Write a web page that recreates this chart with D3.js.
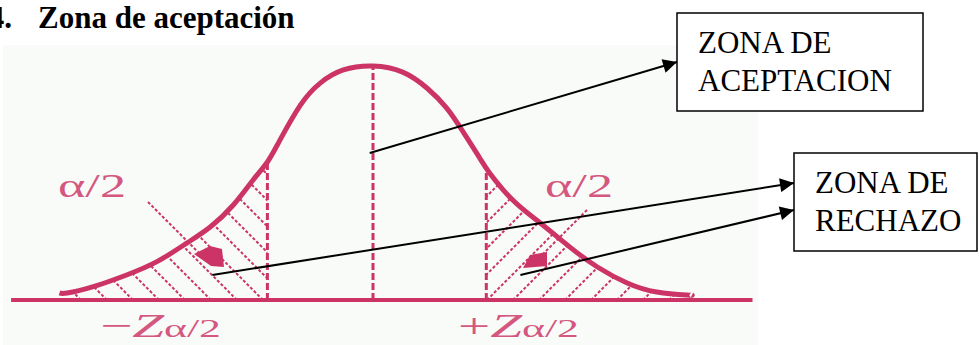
<!DOCTYPE html>
<html>
<head>
<meta charset="utf-8">
<script src="https://cdnjs.cloudflare.com/ajax/libs/d3/7.8.5/d3.min.js"></script>
<style>
body { margin: 0; background: #ffffff; }
text { font-family: "Liberation Serif", "Times New Roman", "DejaVu Serif", serif; }
</style>
</head>
<body>
<div id="graph"></div>
<script>
// bell curve (z units, height relative to the peak)
var curveZ = [-2.85, -2.78, -2.55, -2.24, -1.96, -1.69, -1.48, -1.27, -1.09, -0.96, -0.85, -0.66, -0.48, -0.27, 0, 0.27, 0.49, 0.67, 0.82, 0.97, 1.06, 1.27, 1.52, 1.79, 2.04, 2.31, 2.58, 2.85, 2.9];
var curveH = [0.03, 0.03, 0.056, 0.107, 0.165, 0.244, 0.312, 0.406, 0.513, 0.59, 0.68, 0.833, 0.927, 0.983, 1, 0.974, 0.906, 0.82, 0.718, 0.607, 0.543, 0.427, 0.329, 0.226, 0.141, 0.073, 0.034, 0.021, 0.021];

var axisZ = [-3.29, 3.45];          // ends of the base line
var critZ = [-0.96, 0, 1.03];       // -Z a/2, centre, +Z a/2
var tailLabels = ["\u03b1/2", "\u03b1/2"];
var critLabels = ["\u2212Z", "+Z"];
var critSub = "\u03b1/2";
var boxLabels = [["ZONA DE", "ACEPTACION"], ["ZONA DE", "RECHAZO"]];
// where each arrow starts (z, relative height)
var arrowFrom = [[-0.03, 0.628], [-1.46, 0.107], [1.34, 0.107]];
var title = "Zona de aceptación";

function runD3code() {
	var pink = "#cc3366";
	var svg = d3.select("#graph").append("svg")
		.attr("width", 979)
		.attr("height", 345);

	var x = d3.scaleLinear().domain([-3, 3]).range([43, 703]);
	var y = d3.scaleLinear().domain([0, 1]).range([300, 66]);

	var pts = curveZ.map(function(z, i) { return [z, curveH[i]]; });

	// light picture background
	svg.append("rect")
		.attr("x", 3).attr("y", 45)
		.attr("width", 755).attr("height", 300)
		.style("fill", "#f8fbf8");

	var defs = svg.append("defs");
	defs.append("marker")
		.attr("id", "arrow")
		.attr("viewBox", "0 -5 10 10")
		.attr("refX", 10)
		.attr("refY", 0)
		.attr("markerUnits", "userSpaceOnUse")
		.attr("markerWidth", 16)
		.attr("markerHeight", 14)
		.attr("orient", "auto")
		.append("path")
		.attr("d", "M0,-5L10,0L0,5Z")
		.style("fill", "black");

	var area = d3.area()
		.x(function(d) { return x(d[0]); })
		.y0(y(0))
		.y1(function(d) { return y(d[1]); })
		.curve(d3.curveNatural);
	defs.append("clipPath").attr("id", "under")
		.append("path").attr("d", area(pts));
	defs.append("clipPath").attr("id", "leftTail")
		.append("rect").attr("x", 0).attr("y", 0)
		.attr("width", x(critZ[0])).attr("height", 345);
	defs.append("clipPath").attr("id", "rightTail")
		.append("rect").attr("x", x(critZ[2])).attr("y", 0)
		.attr("width", 979).attr("height", 345);

	// hatching of the two tails
	var left = svg.append("g").attr("clip-path", "url(#leftTail)")
		.append("g").attr("clip-path", "url(#under)");
	left.selectAll("line")
		.data(d3.range(29, 430, 26))
		.enter().append("line")
		.attr("x1", function(d) { return d; })
		.attr("y1", y(0))
		.attr("x2", function(d) { return d - 260; })
		.attr("y2", y(0) - 260)
		.style("stroke", pink)
		.style("stroke-width", 2)
		.style("stroke-dasharray", "3,2");

	var right = svg.append("g").attr("clip-path", "url(#rightTail)")
		.append("g").attr("clip-path", "url(#under)");
	right.selectAll("line")
		.data(d3.range(331, 760, 26))
		.enter().append("line")
		.attr("x1", function(d) { return d; })
		.attr("y1", y(0))
		.attr("x2", function(d) { return d + 260; })
		.attr("y2", y(0) - 260)
		.style("stroke", pink)
		.style("stroke-width", 2)
		.style("stroke-dasharray", "3,2");

	// dashed verticals
	svg.append("g").attr("clip-path", "url(#under)")
		.selectAll("line")
		.data(critZ)
		.enter().append("line")
		.attr("x1", function(d) { return x(d); })
		.attr("x2", function(d) { return x(d); })
		.attr("y1", y(0))
		.attr("y2", y(1))
		.style("stroke", pink)
		.style("stroke-width", 3)
		.style("stroke-dasharray", "7,3");

	// base line
	svg.append("line")
		.attr("x1", x(axisZ[0])).attr("x2", x(axisZ[1]))
		.attr("y1", y(0)).attr("y2", y(0))
		.style("stroke", pink)
		.style("stroke-width", 4);

	// the curve
	var line = d3.line()
		.x(function(d) { return x(d[0]); })
		.y(function(d) { return y(d[1]); })
		.curve(d3.curveNatural);
	svg.append("path")
		.attr("d", line(pts))
		.style("fill", "none")
		.style("stroke", pink)
		.style("stroke-width", 5);

	// pointers from the alpha/2 labels
	svg.append("line")
		.attr("x1", 148).attr("y1", 202).attr("x2", 208).attr("y2", 262)
		.style("stroke", pink).style("stroke-width", 2).style("stroke-dasharray", "3,2");
	svg.append("path")
		.attr("d", "M194,254L210,246L222,249L224,267L211,266Z")
		.style("fill", pink);
	svg.append("line")
		.attr("x1", 587).attr("y1", 210).attr("x2", 533).attr("y2", 264)
		.style("stroke", pink).style("stroke-width", 2).style("stroke-dasharray", "3,2");
	svg.append("path")
		.attr("d", "M523,268L530,255L547,252L547,266Z")
		.style("fill", pink);

	// alpha/2 labels
	svg.selectAll("text.tail")
		.data(tailLabels)
		.enter().append("text")
		.attr("class", "tail")
		.attr("x", function(d, i) { return i == 0 ? 58 : 545; })
		.attr("y", 197)
		.attr("textLength", 68)
		.attr("lengthAdjust", "spacingAndGlyphs")
		.style("font-size", "34px")
		.style("fill", "#d4577f")
		.text(function(d) { return d; });

	// -Z a/2 and +Z a/2
	var crit = svg.selectAll("text.crit")
		.data(critLabels)
		.enter().append("text")
		.attr("class", "crit")
		.attr("x", function(d, i) { return i == 0 ? 100 : 458; })
		.attr("y", 337)
		.attr("textLength", 121)
		.attr("lengthAdjust", "spacingAndGlyphs")
		.style("font-size", "34px")
		.style("fill", "#d4577f");
	crit.append("tspan").text(function(d) { return d.charAt(0); });
	crit.append("tspan").style("font-style", "italic").text(function(d) { return d.charAt(1); });
	crit.append("tspan").style("font-size", "26px").text(critSub);

	// arrows
	var targets = [[677, 62], [794, 183], [794, 210]];
	svg.selectAll("line.arrow")
		.data(arrowFrom)
		.enter().append("line")
		.attr("class", "arrow")
		.attr("x1", function(d) { return x(d[0]); })
		.attr("y1", function(d) { return y(d[1]); })
		.attr("x2", function(d, i) { return targets[i][0]; })
		.attr("y2", function(d, i) { return targets[i][1]; })
		.style("stroke", "black")
		.style("stroke-width", 2)
		.attr("marker-end", "url(#arrow)");

	// boxes
	var boxes = [[677, 13, 246, 98], [794, 153, 183, 98]];
	var g = svg.selectAll("g.box")
		.data(boxLabels)
		.enter().append("g")
		.attr("class", "box")
		.attr("transform", function(d, i) { return "translate(" + boxes[i][0] + "," + boxes[i][1] + ")"; });
	g.append("rect")
		.attr("width", function(d, i) { return boxes[i][2]; })
		.attr("height", function(d, i) { return boxes[i][3]; })
		.style("fill", "white")
		.style("stroke", "black")
		.style("stroke-width", 1.5);
	g.selectAll("text")
		.data(function(d) { return d; })
		.enter().append("text")
		.attr("x", 21)
		.attr("y", function(d, i) { return 40 + i * 38; })
		.style("font-size", "31px")
		.style("fill", "black")
		.text(function(d) { return d; });

	// heading
	svg.append("text")
		.attr("x", 12).attr("y", 28)
		.attr("text-anchor", "end")
		.style("font-weight", "bold")
		.style("font-size", "31px")
		.text("4.");
	svg.append("text")
		.attr("x", 38).attr("y", 28)
		.style("font-weight", "bold")
		.style("font-size", "31px")
		.text(title);
}
runD3code();
</script>
</body>
</html>
